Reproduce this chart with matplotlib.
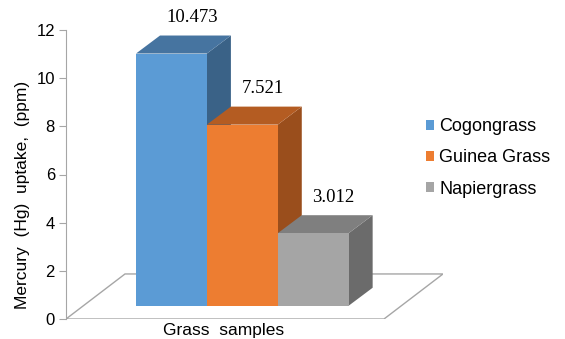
import matplotlib.pyplot as plt
from matplotlib.patches import Polygon, Patch

# Mercury uptake per grass species
grasses = ["Cogongrass", "Guinea Grass", "Napiergrass"]
uptake = [10.473, 7.521, 3.012]
yticks = [0, 2, 4, 6, 8, 10, 12]

front_colors = ["#5b9bd5", "#ed7d31", "#a5a5a5"]
top_colors = ["#4674a0", "#b45c22", "#7f7f7f"]
side_colors = ["#3a6287", "#9a4e1c", "#6b6b6b"]

plt.rcParams['font.family'] = ['Liberation Sans', 'DejaVu Sans']

fig = plt.figure(figsize=(5.65, 3.39), dpi=100)
ax = fig.add_axes([66 / 565, 20 / 339, 377 / 565, 289 / 339])
ax.set_xlim(0, 10)
ax.set_ylim(0, 12)

# fake 3d: depth offset of a bar and of the floor
ddx, ddy = 0.637, 0.748
floor_dx, floor_dy = 1.565, 1.87

floor = Polygon([(0, 0), (10 - floor_dx, 0), (10, floor_dy), (floor_dx, floor_dy)],
                closed=True, facecolor="white", edgecolor="#a6a6a6", lw=1.0, zorder=1)
ax.add_patch(floor)

base = 0.55
width = 1.88
left0 = 1.857
for i, v in enumerate(uptake):
    x0 = left0 + i * width
    x1 = x0 + width
    top = base + v
    side = Polygon([(x1, base), (x1 + ddx, base + ddy), (x1 + ddx, top + ddy), (x1, top)],
                   closed=True, facecolor=side_colors[i], edgecolor="none", zorder=2)
    lid = Polygon([(x0, top), (x1, top), (x1 + ddx, top + ddy), (x0 + ddx, top + ddy)],
                  closed=True, facecolor=top_colors[i], edgecolor="none", zorder=2)
    front = Polygon([(x0, base), (x1, base), (x1, top), (x0, top)],
                    closed=True, facecolor=front_colors[i], edgecolor="none", zorder=2)
    for p in (side, lid, front):
        ax.add_patch(p)
    ax.text(x0 + width / 2 + ddx * 0.85, top + ddy + 0.75, f"{v:.3f}",
            ha="center", va="center", fontsize=13.5, family="Liberation Serif",
            clip_on=False)

for s in ("top", "right", "bottom"):
    ax.spines[s].set_visible(False)
ax.spines["left"].set_color("#a6a6a6")
ax.set_xticks([])
ax.set_yticks(yticks)
ax.tick_params(axis="y", length=5, color="#a6a6a6", labelsize=12, pad=3)
ax.patch.set_alpha(0)

fig.text(23 / 565, 1 - 195 / 339, "Mercury  (Hg)  uptake,  (ppm)",
         rotation=90, ha="center", va="center", fontsize=12.5)
fig.text(224 / 565, 1 - 330 / 339, "Grass  samples", ha="center", va="center",
         fontsize=12.5)

handles = [Patch(facecolor=c, edgecolor="none") for c in front_colors]
fig.legend(handles, grasses, loc="center left", bbox_to_anchor=(410 / 565, 1 - 158 / 339),
           frameon=False, fontsize=13, handlelength=0.42, handleheight=0.42,
           handletextpad=0.3, labelspacing=0.78)

fig.savefig("out.png", dpi=100)
